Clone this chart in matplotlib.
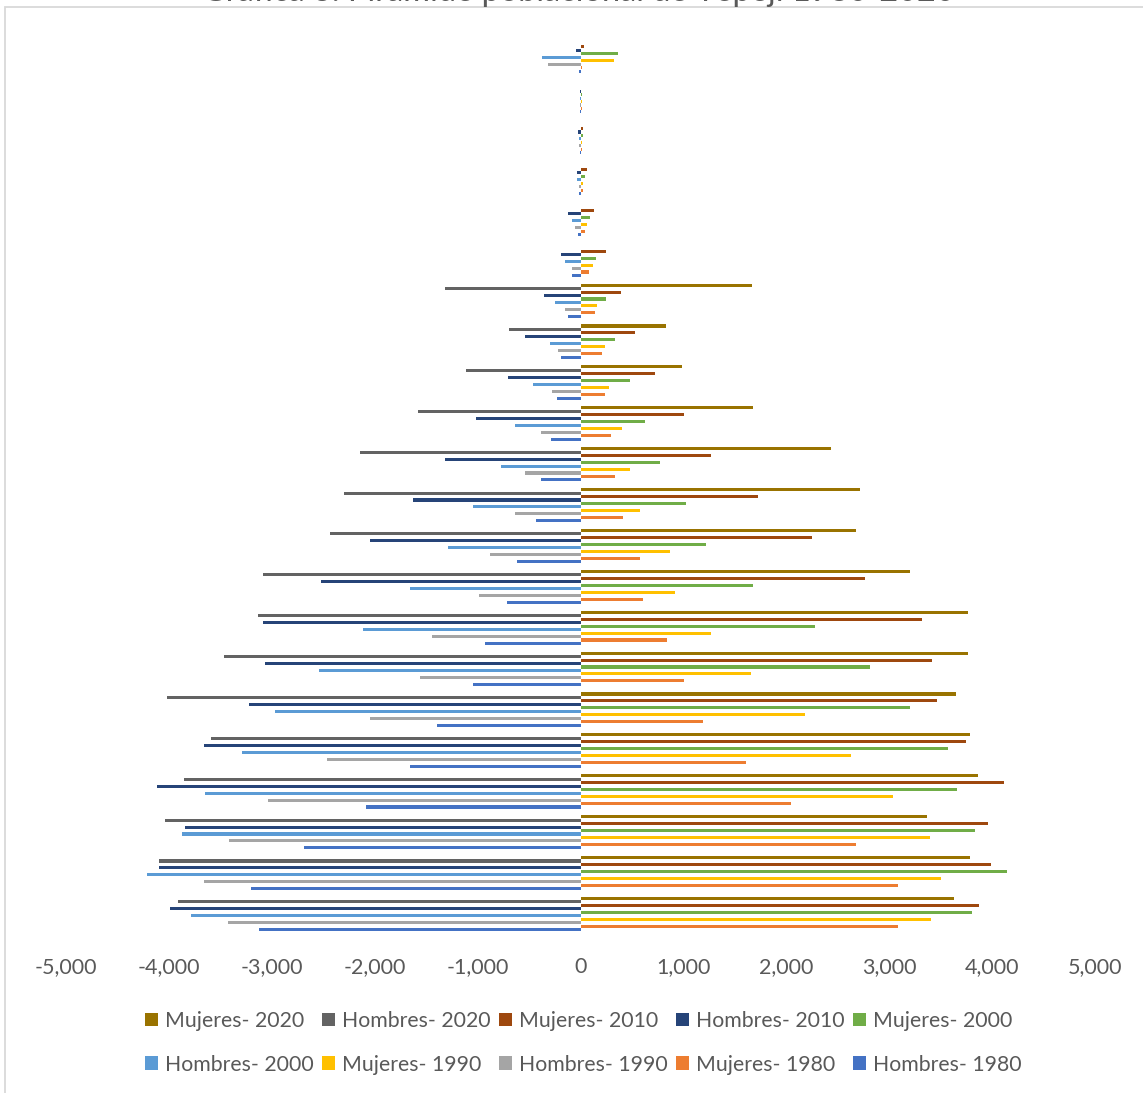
import matplotlib
matplotlib.use("Agg")
import matplotlib.pyplot as plt
from matplotlib.patches import Rectangle, Patch
import numpy as np

plt.rcParams['font.family'] = ['Lato', 'DejaVu Sans']

# Age groups, bottom (first) to top (last)
categories = ["0-4", "5-9", "10-14", "15-19", "20-24", "25-29", "30-34", "35-39",
              "40-44", "45-49", "50-54", "55-59", "60-64", "65-69", "70-74",
              "75-79", "80-84", "85-89", "90-94", "95-99", "100 y más",
              "No especificado"]

hombres_1980 = [-3127, -3204, -2686, -2085, -1655, -1390, -1048, -932, -717, -618, -436,
                -386, -287, -232, -193, -121, -81, -26, -13, -6, -3, -13]
mujeres_1980 = [3083, 3088, 2675, 2046, 1610, 1191, 1009, 844, 612, 574, 414,
                336, 292, 237, 210, 138, 81, 39, 26, 13, 10, 16]
hombres_1990 = [-3425, -3662, -3414, -3039, -2465, -2041, -1561, -1439, -987, -877, -634,
                -535, -386, -281, -221, -154, -84, -55, -19, -13, -2, -316]
mujeres_1990 = [3408, 3502, 3392, 3033, 2631, 2184, 1655, 1268, 915, 871, 579,
                480, 408, 276, 237, 165, 117, 68, 26, 13, 10, 328]
hombres_2000 = [-3789, -4208, -3877, -3645, -3292, -2967, -2542, -2118, -1655, -1285, -1048,
                -772, -634, -463, -292, -243, -146, -81, -32, -13, -3, -372]
mujeres_2000 = [3805, 4147, 3838, 3656, 3568, 3199, 2813, 2283, 1677, 1219, 1026,
                772, 629, 485, 331, 248, 146, 94, 45, 29, 13, 366]
hombres_2010 = [-3987, -4092, -3844, -4114, -3662, -3221, -3066, -3083, -2520, -2041, -1632,
                -1313, -1015, -706, -535, -358, -191, -117, -36, -23, -2, -42]
mujeres_2010 = [3871, 3987, 3960, 4114, 3745, 3463, 3414, 3315, 2763, 2250, 1721,
                1268, 1004, 728, 529, 397, 246, 136, 68, 23, 3, 36]
hombres_2020 = [-3910, -4092, -4037, -3849, -3590, -4020, -3469, -3133, -3088, -2438, -2300,
                -2140, -1583, -1108, -695, -1318, 0, 0, 0, 0, 0, 0]
mujeres_2020 = [3629, 3783, 3364, 3861, 3789, 3651, 3761, 3761, 3204, 2675, 2719,
                2432, 1677, 987, 827, 1670, 0, 0, 0, 0, 0, 0]

series_names = ["Hombres- 1980", "Mujeres- 1980", "Hombres- 1990", "Mujeres- 1990",
                "Hombres- 2000", "Mujeres- 2000", "Hombres- 2010", "Mujeres- 2010",
                "Hombres- 2020", "Mujeres- 2020"]
series_values = [hombres_1980, mujeres_1980, hombres_1990, mujeres_1990,
                 hombres_2000, mujeres_2000, hombres_2010, mujeres_2010,
                 hombres_2020, mujeres_2020]
series_colors = ["#4472C4", "#ED7D31", "#A5A5A5", "#FFC000", "#5B9BD5",
                 "#70AD47", "#264478", "#9E480E", "#636363", "#997300"]

xticks = [-5000, -4000, -3000, -2000, -1000, 0, 1000, 2000, 3000, 4000, 5000]
xtick_labels = ["-5,000", "-4,000", "-3,000", "-2,000", "-1,000", "0",
                "1,000", "2,000", "3,000", "4,000", "5,000"]

title = "Gráfica 3. Pirámide poblacional de Tepeji 1980-2020"

W, H = 1143, 1093
fig = plt.figure(figsize=(W / 100, H / 100), dpi=100)
ax = fig.add_axes([66 / W, 1 - 934.5 / H, (1095 - 66) / W, (934.5 - 35) / H])

y = np.arange(len(categories))
nser = len(series_values)
slot = 0.0849
for j, (name, vals, col) in enumerate(zip(series_names, series_values, series_colors)):
    off = (j - (nser - 1) / 2) * slot
    ax.barh(y + off, vals, height=slot * 0.88, color=col, label=name, linewidth=0)

ax.set_xlim(-5000, 5000)
ax.set_ylim(-0.5, len(categories) - 0.5)
ax.set_yticks([])
ax.set_xticks(xticks)
ax.set_xticklabels(xtick_labels)
ax.tick_params(axis='x', length=0, pad=16, labelsize=15.5, labelcolor='#595959')
for s in ax.spines.values():
    s.set_visible(False)

# legend order as in reference (row-wise)
legend_order = ["Mujeres- 2020", "Hombres- 2020", "Mujeres- 2010", "Hombres- 2010",
                "Mujeres- 2000", "Hombres- 2000", "Mujeres- 1990", "Hombres- 1990",
                "Mujeres- 1980", "Hombres- 1980"]
ncol = 5
nrow = 2
col_major = []
for c in range(ncol):
    for r in range(nrow):
        col_major.append(legend_order[r * ncol + c])
leg_handles = [Patch(facecolor=series_colors[series_names.index(n)], edgecolor='none')
               for n in col_major]
leg = fig.legend(leg_handles, col_major, loc='upper left',
                 bbox_to_anchor=(145 / W, 1 - 1011 / H), ncol=ncol, frameon=False,
                 fontsize=15.3, handlelength=0.63, handleheight=0.63,
                 handletextpad=0.3, columnspacing=0.4, labelspacing=1.12,
                 borderpad=0, borderaxespad=0)
for t in leg.get_texts():
    t.set_color('#595959')

# chart border (light gray)
fig.add_artist(Rectangle((5 / W, -0.1), 2, 1.1 - 7 / H, transform=fig.transFigure,
                         fill=False, edgecolor='#D9D9D9', linewidth=1.3))

# title (cut off at top in the reference)
fig.text(578 / W, 1 - 0.8 / H, title, ha='center', va='baseline',
         fontsize=23.4, color='#595959')

fig.savefig("out.png", dpi=100)
